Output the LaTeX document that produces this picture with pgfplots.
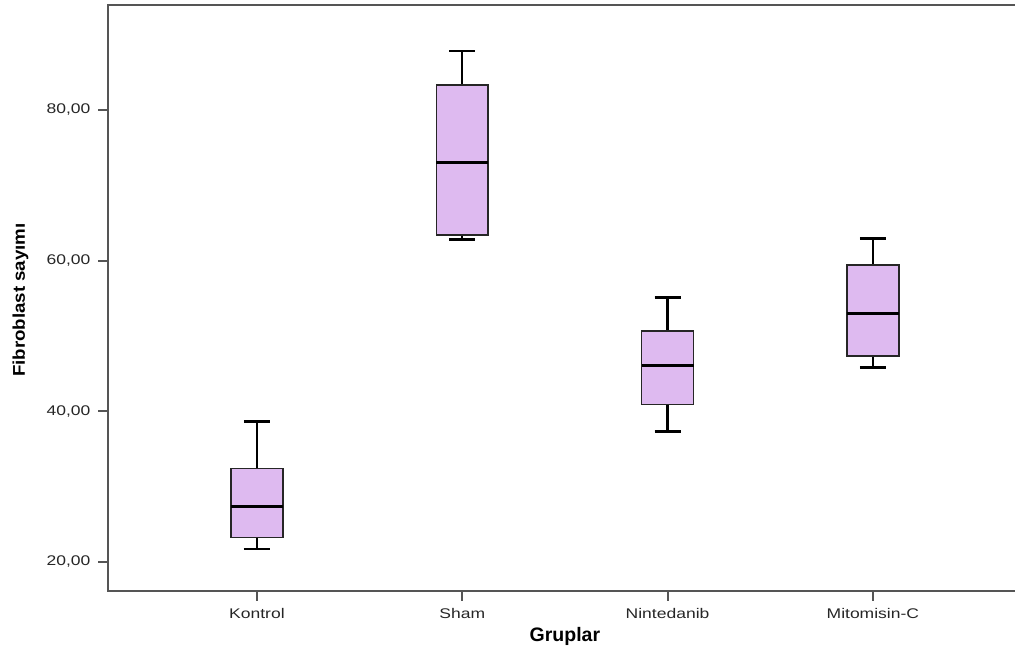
\documentclass[border=0pt]{standalone}
\usepackage{fontspec}
\setmainfont{Liberation Sans}
\newfontfamily\tickfont[FakeStretch=1.25]{Liberation Sans}
\newfontfamily\ylabfont[FakeStretch=1.1]{Liberation Sans}
\usepackage{pgfplots}
\pgfplotsset{compat=1.18}
\usepgfplotslibrary{statistics}
\definecolor{boxfill}{RGB}{222,186,240}
\definecolor{axisgray}{RGB}{85,85,85}

% 1 px of the reference = 0.5pt
\begin{document}
\begin{tikzpicture}
\begin{axis}[
  at={(0,0)}, anchor=south west,
  scale only axis, width=456.4pt, height=292.75pt,
  xmin=0.277, xmax=4.723, ymin=16.17, ymax=93.95,
  axis line style={axisgray, line width=1pt},
  xtick={1,2,3,4},
  xticklabels={Kontrol,Sham,Nintedanib,Mitomisin-C},
  ytick={20,40,60,80},
  xtick pos=bottom, ytick pos=left,
  tick align=outside, major tick length=5pt,
  tick style={axisgray, line width=1pt},
  /pgf/number format/.cd, fixed, fixed zerofill, precision=2, use comma, assume math mode=true,
  /pgfplots/.cd,
  ticklabel style={font=\tickfont\fontsize{7}{8}\selectfont, text=black!85},
  xticklabel style={yshift=-0.5pt},
  yticklabel style={xshift=-0.5pt},
  xlabel={\textbf{Gruplar}},
  xlabel style={font=\fontsize{9.75}{11}\selectfont, at={(axis description cs:0.5,-0.0777)}, anchor=center},
  ylabel={\textbf{Fibroblast sayımı}},
  ylabel style={font=\ylabfont\fontsize{8.5}{10}\selectfont, at={(axis description cs:-0.0964,0.496)}, anchor=center},
  boxplot/draw direction=y,
  boxplot/box extend=0.253,
  boxplot/whisker extend=0.1266,
]
% Kontrol
\addplot[draw=black!85, fill=boxfill, line width=0.75pt,
  boxplot/every median/.style={line width=1.5pt, black},
  boxplot/every whisker/.style={line width=1.25pt, black},
  boxplot prepared={draw position=1, lower whisker=21.7, lower quartile=23.24,
    median=27.3, upper quartile=32.4, upper whisker=38.6}] coordinates {};
% Sham
\addplot[draw=black!85, fill=boxfill, line width=0.75pt,
  boxplot/every median/.style={line width=1.5pt, black},
  boxplot/every whisker/.style={line width=1.25pt, black},
  boxplot prepared={draw position=2, lower whisker=62.8, lower quartile=63.4,
    median=73.05, upper quartile=83.3, upper whisker=87.84}] coordinates {};
% Nintedanib
\addplot[draw=black!85, fill=boxfill, line width=0.75pt,
  boxplot/every median/.style={line width=1.5pt, black},
  boxplot/every whisker/.style={line width=1.25pt, black},
  boxplot prepared={draw position=3, lower whisker=37.3, lower quartile=40.9,
    median=46.0, upper quartile=50.64, upper whisker=55.1}] coordinates {};
% Mitomisin-C
\addplot[draw=black!85, fill=boxfill, line width=0.75pt,
  boxplot/every median/.style={line width=1.5pt, black},
  boxplot/every whisker/.style={line width=1.25pt, black},
  boxplot prepared={draw position=4, lower whisker=45.8, lower quartile=47.3,
    median=52.94, upper quartile=59.4, upper whisker=62.9}] coordinates {};
\end{axis}
\pgfresetboundingbox
\path[use as bounding box] (-54.25pt,-32.25pt) rectangle (453.25pt,295.25pt);
\end{tikzpicture}
\end{document}
